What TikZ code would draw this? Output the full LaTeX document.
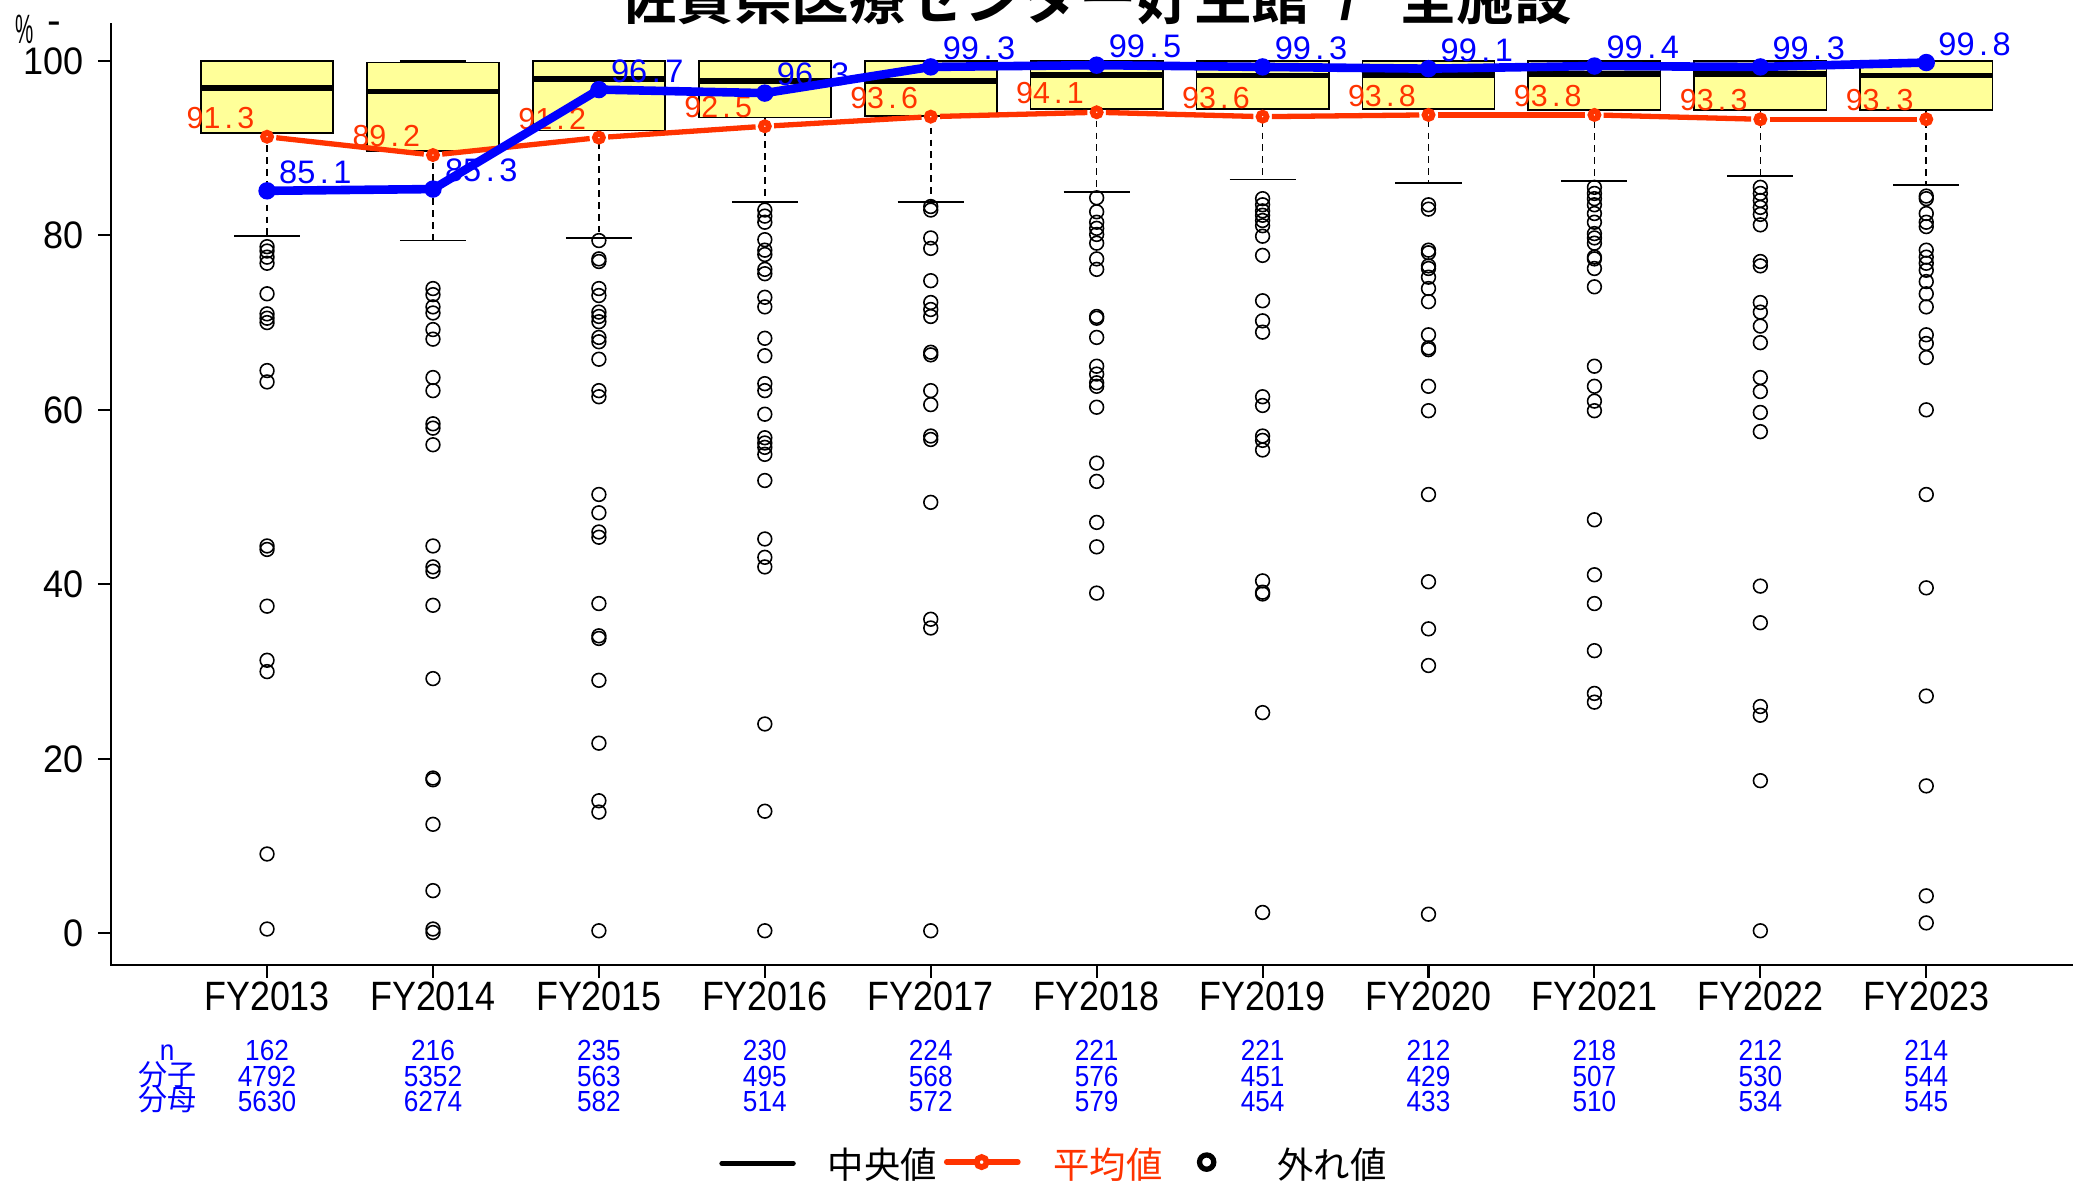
\documentclass[tikz,border=0pt]{standalone}
\usepackage{fontspec}
\usepackage{graphicx}
\setmainfont{Liberation Sans}
\newfontfamily\cjk{Noto Sans CJK JP}
\newfontfamily\cjkb{Noto Sans CJK JP Bold}
\definecolor{boxfill}{RGB}{255,255,153}
\definecolor{meanred}{RGB}{255,51,0}
\definecolor{totblue}{RGB}{0,0,255}
\newcommand{\fs}[1]{\fontsize{#1}{#1}\selectfont}
\newcommand{\hx}[2]{\scalebox{#1}[1]{#2}}
\newcommand{\fp}{\makebox[0.556em]{.}}
\begin{document}
\begin{tikzpicture}[x=1pt,y=-1pt,
  boxst/.style={draw=black, line width=1.3pt, fill=boxfill},
  medst/.style={line width=4.2pt},
  whisk/.style={line width=1.2pt, dash pattern=on 5pt off 4pt},
  capline/.style={line width=1.3pt},
  outl/.style={line width=1.2pt},
  axisline/.style={line width=1.6pt},
  meanline/.style={meanred, line width=4pt, shorten >=7pt, shorten <=7pt},
  meandot/.style={draw=meanred, line width=4.4pt, fill=white},
  totline/.style={totblue, line width=6.5pt, line join=round},
  redlab/.style={text=meanred, font=\fs{23}, inner sep=0pt},
  bluelab/.style={text=totblue, font=\fs{24.6}, inner sep=0pt},
  ylab/.style={font=\fs{29}, inner sep=0pt, anchor=east},
  xlab/.style={font=\fs{31}, inner sep=0pt},
  cntlab/.style={text=totblue, font=\fs{22}, inner sep=0pt, anchor=base},
  leglab/.style={font=\cjk\fs{27.5}, inner sep=0pt, anchor=west}
]
\useasboundingbox (0,0) rectangle (1568,895.6);

% title
\node[inner sep=0pt, anchor=base west] (title) at (468,14.6)
  {\fs{43.5}{\cjkb 佐賀県医療センター好生館}\hspace{24pt}{\bfseries /}\hspace{32pt}{\cjkb 全施設}};

% unit label
\node[inner sep=0pt, anchor=base, font=\fs{31}] (pct) at (18.5,32.8) {\hx{0.5}{\%}};
\node[inner sep=0pt, anchor=base, font=\fs{31}] (dash) at (41,26.1) {-};

% data scope
\begin{scope}[shift={(0pt,-706pt)}, y=6.6pt]
  % boxes
  \foreach \i/\qa/\md/\qc/\lo in {0/91.7/96.9/100/79.9, 1/89.7/96.5/99.8/79.4,
     2/92.0/97.9/100/79.7, 3/93.5/97.7/100/83.8, 4/93.7/97.7/100/83.8,
     5/94.5/98.4/100/85.0, 6/94.5/98.3/100/86.4, 7/94.5/98.4/100/86.0,
     8/94.4/98.5/100/86.2, 9/94.4/98.5/100/86.8, 10/94.4/98.3/100/85.8}{
    \pgfmathsetmacro\xc{202+125.5*\i}
    \draw[whisk] (\xc,\qa) -- (\xc,\lo);
    \draw[capline] (\xc-25,\lo) -- (\xc+25,\lo);
    \draw[whisk] (\xc,\qc) -- (\xc,100);
    \draw[capline] (\xc-25,100) -- (\xc+25,100);
    \draw[boxst] (\xc-50,\qa) rectangle (\xc+50,\qc);
    \draw[medst] (\xc-50,\md) -- (\xc+50,\md);
  }
  % outliers
  \foreach \i/\vals in {
    0/{78.7,78.2,77.5,76.8,73.3,71.0,70.5,70.0,64.5,63.2,44.4,44.0,37.5,31.3,30.0,9.1,0.5},
    1/{73.9,73.2,71.8,71.1,69.2,68.1,63.7,62.2,58.4,57.9,56.0,44.4,42.0,41.5,37.6,29.2,17.8,17.6,12.5,4.9,0.5,0.1},
    2/{79.4,77.3,77.0,73.9,73.1,71.2,70.7,70.1,68.3,67.8,65.8,62.2,61.5,50.3,48.2,46.0,45.4,37.8,34.1,33.8,29.0,21.8,15.2,13.9,0.3},
    3/{82.9,82.2,81.5,79.5,78.3,77.8,76.1,75.6,72.9,71.8,68.2,66.2,63.0,62.2,59.5,56.8,56.2,55.7,54.9,51.9,45.2,43.1,42.0,24.0,14.0,0.3},
    4/{83.3,82.9,79.7,78.5,74.8,72.3,71.5,70.7,66.6,66.3,62.2,60.6,57.0,56.6,49.4,36.0,35.0,0.3},
    5/{84.3,82.7,81.5,80.8,80.1,79.1,77.3,76.1,70.7,70.5,68.3,65.0,64.1,63.1,62.7,60.3,53.9,51.8,47.1,44.3,39.0},
    6/{84.2,83.5,82.8,82.3,81.7,81.1,79.9,77.7,72.5,70.2,68.9,61.5,60.5,57.0,56.5,55.4,40.4,39.1,38.9,25.3,2.4},
    7/{83.5,83.0,78.3,78.0,76.5,76.2,75.2,73.9,72.4,68.6,67.1,66.9,62.7,59.9,50.3,40.3,34.9,30.7,2.2},
    8/{85.5,84.8,84.2,83.5,82.5,81.5,80.2,79.7,79.1,77.5,77.3,76.2,74.1,65.0,62.7,61.0,59.9,47.4,41.1,37.8,32.4,27.5,26.5},
    9/{85.5,84.8,84.0,83.2,82.4,81.2,77.0,76.5,72.3,71.2,69.6,67.7,63.7,62.1,59.7,57.5,39.8,35.6,26.0,25.0,17.5,0.3},
    10/{84.5,84.2,82.5,81.5,81.0,78.3,77.5,76.8,76.0,74.7,73.3,71.8,68.6,67.6,66.0,60.0,50.3,39.6,27.2,16.9,4.3,1.2}}{
    \pgfmathsetmacro\xc{202+125.5*\i}
    \foreach \v in \vals {\draw[outl] (\xc,\v) circle[radius=5.2pt];}
  }
  % mean coordinates
  \foreach \i/\m in {0/91.3,1/89.2,2/91.2,3/92.5,4/93.6,5/94.1,6/93.6,7/93.8,8/93.8,9/93.3,10/93.3}
    {\coordinate (m\i) at (202+125.5*\i,\m);}
  \foreach \i/\m in {0/85.1,1/85.3,2/96.7,3/96.3,4/99.3,5/99.5,6/99.3,7/99.1,8/99.4,9/99.3,10/99.8}
    {\coordinate (t\i) at (202+125.5*\i,\m);}
  % mean line
  \foreach \i [evaluate=\i as \j using int(\i+1)] in {0,...,9}
    {\draw[meanline] (m\i) -- (m\j);}
  \foreach \i in {0,...,10}{\draw[meandot] (m\i) circle[radius=3.0pt];}
  \foreach \i/\ma/\mb in {0/91/3,1/89/2,2/91/2,3/92/5,4/93/6,5/94/1,6/93/6,7/93/8,8/93/8,9/93/3,10/93/3}
    {\node[redlab, anchor=south east] (ml\i) at ([xshift=-9.5pt,yshift=6pt]m\i) {\ma\fp\mb};}
  % total line
  \foreach \i/\ma/\mb in {0/85/1,1/85/3,2/96/7,3/96/3,4/99/3,5/99/5,6/99/3,7/99/1,8/99/4,9/99/3,10/99/8}
    {\node[bluelab, anchor=south west] (tl\i) at ([xshift=9pt,yshift=5pt]t\i) {\ma\fp\mb};}
  \draw[totline] (t0) \foreach \i in {1,...,10}{ -- (t\i)};
  \foreach \i in {0,...,10}{\fill[totblue] (t\i) circle[radius=6.6pt];}
  % y ticks
  \foreach \v in {0,20,40,60,80,100}{
    \draw[axisline] (74,\v) -- (84,\v);
    \node[ylab] (yl\v) at (63.5,\v) {\hx{0.94}{\v}};
  }
\end{scope}

% axes
\draw[axisline] (84,17.6) -- (84,730) -- (1568,730);

% x ticks and counts
\foreach \i/\yr/\n/\ma/\mb in {0/2013/162/4792/5630, 1/2014/216/5352/6274,
   2/2015/235/563/582, 3/2016/230/495/514, 4/2017/224/568/572, 5/2018/221/576/579,
   6/2019/221/451/454, 7/2020/212/429/433, 8/2021/218/507/510, 9/2022/212/530/534,
   10/2023/214/544/545}{
  \pgfmathsetmacro\xc{202+125.5*\i}
  \draw[axisline] (\xc,730) -- (\xc,740);
  \node[xlab] (fy\i) at (\xc,753.6) {\hx{0.875}{FY\yr}};
  \node[cntlab] (n\i) at (\xc,801.8) {\hx{0.9}{\n}};
  \node[cntlab] (a\i) at (\xc,822) {\hx{0.9}{\ma}};
  \node[cntlab] (b\i) at (\xc,840.9) {\hx{0.9}{\mb}};
}
\node[cntlab] (nlab) at (126.5,801.8) {\hx{0.9}{n}};
\node[cntlab, font=\cjk\fs{22}] (alab) at (126.5,821) {分子};
\node[cntlab, font=\cjk\fs{22}] (blab) at (126.5,840) {分母};

% legend
\coordinate (lg1a) at (546,880); \coordinate (lg1b) at (600,880);
\draw[line width=3.8pt, line cap=round] (lg1a) -- (lg1b);
\node[leglab] (lgt1) at (626,881) {中央値};
\coordinate (lg2a) at (716,879); \coordinate (lg2b) at (770,879); \coordinate (lg2c) at (742.5,879);
\draw[meanred, line width=4pt, line cap=round] (lg2a) -- (lg2b);
\draw[draw=meanred, line width=4.4pt, fill=white] (lg2c) circle[radius=3.8pt];
\node[leglab, text=meanred] (lgt2) at (796.5,881) {平均値};
\coordinate (lg3) at (912.7,879);
\draw[line width=4pt] (lg3) circle[radius=5.4pt];
\node[leglab] (lgt3) at (966,881) {外れ値};
\end{tikzpicture}
\end{document}
